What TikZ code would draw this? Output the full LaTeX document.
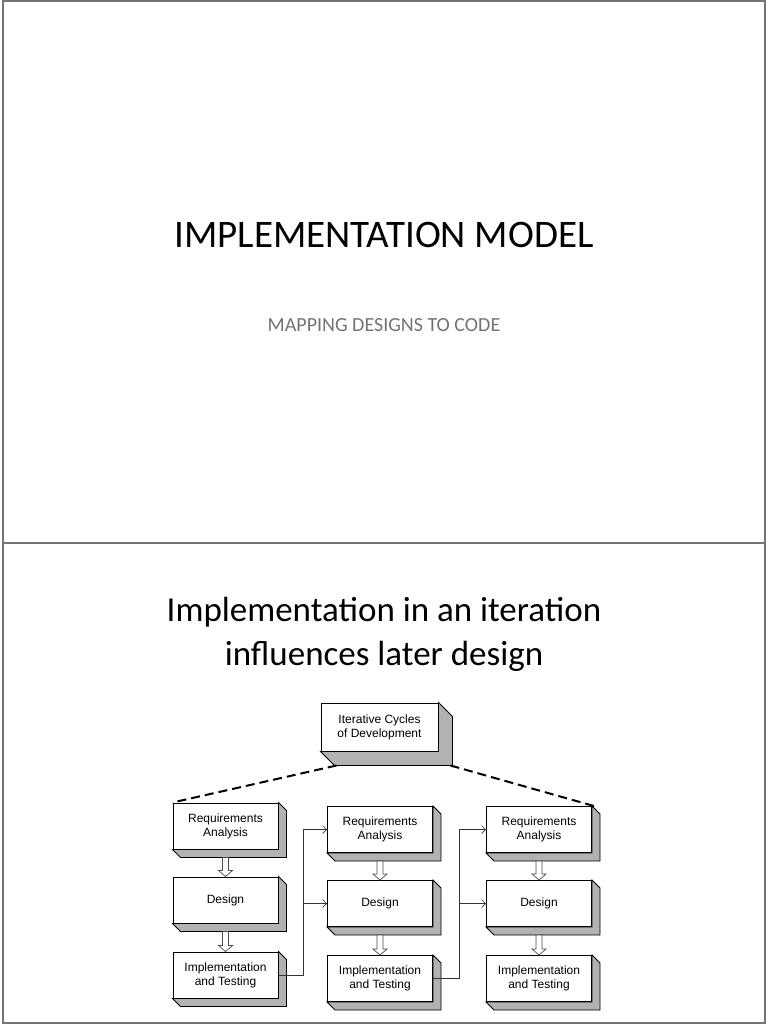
\documentclass[tikz,border=0pt]{standalone}
\usepackage{fontspec}
\setmainfont{Carlito}
\newfontfamily\boxfont{Liberation Sans}
\usetikzlibrary{positioning,arrows.meta,calc}

\begin{document}
\begin{tikzpicture}
   [x=1pt,y=-1pt,
	phase/.style={rectangle,draw,fill=white,minimum width=105pt,minimum height=46pt,
	 inner sep=1pt,align=center,font=\boxfont\fontsize{12}{14}\selectfont,line width=1pt},
	hollow/.style={draw=black!70,fill=white,line width=0.7pt},
	back/.style={->,>={Straight Barb[length=4pt,width=8pt]},black!80,line width=0.6pt},
	slide/.style={draw=black!55,line width=1.2pt}]
\useasboundingbox (0,0) rectangle (768,1024);
% slide frames
\draw [slide] (3,1) rectangle (765,1023);
\draw [slide] (3,543) -- (765,543);
% titles
\node [font=\fontsize{39}{46}\selectfont] (title) at (384,235) {IMPLEMENTATION MODEL};
\node [text=black!55,font=\fontsize{20}{24}\selectfont] (sub) at (384,325) {MAPPING DESIGNS TO CODE};
\node [align=center,font=\fontsize{35}{44}\selectfont] (title2) at (384,634) {Implementation in an iteration\\ influences later design};
% boxes
\node [phase,minimum width=117pt,minimum height=48pt] (cyc) at (379.5,727) {Iterative Cycles\\of Development};
\node [phase] (ra1) at (225.5,826) {Requirements\\Analysis};
\node [phase] (de1) at (225.5,900) {Design};
\node [phase] (im1) at (225.5,975) {Implementation\\and Testing};
\node [phase] (ra2) at (380,829.5) {Requirements\\Analysis};
\node [phase] (de2) at (380,903.5) {Design};
\node [phase] (im2) at (380,978.5) {Implementation\\and Testing};
\node [phase] (ra3) at (539,829.5) {Requirements\\Analysis};
\node [phase] (de3) at (539,903.5) {Design};
\node [phase] (im3) at (539,978.5) {Implementation\\and Testing};
% extruded sides
\foreach \n/\d in {cyc/14,ra1/8,de1/8,im1/8,ra2/8,de2/8,im2/8,ra3/8,de3/8,im3/8}
  \filldraw [fill=black!30,line width=0.8pt] (\n.north east) -- ++(\d,\d) -- ($(\n.south east)+(\d,\d)$)
	-- ($(\n.south west)+(\d,\d)$) -- (\n.south west) -- (\n.south east) -- cycle;
% dashed links
\draw [line width=2pt,dash pattern=on 9pt off 5pt] ($(cyc.south west)+(16,14)$) -- (ra1.north west);
\draw [line width=2pt,dash pattern=on 9pt off 5pt] ($(cyc.south east)+(12,14)$) -- ($(ra3.north east)+(2,0)$);
% flow inside each cycle
\foreach \a/\b in {ra1/de1,de1/im1,ra2/de2,de2/im2,ra3/de3,de3/im3}
  \draw [hollow] ($(\a.south)+(-3,8)$) -- ($(\b.north)+(-3,-6)$) -- ++(-4,0) -- (\b.north)
	-- ++(7,-6) -- ++(-4,0) -- ($(\a.south)+(3,8)$) -- cycle;
% feedback into the next cycle
\coordinate (j1) at (303,0);
\coordinate (j2) at (459,0);
\draw [back] (im1.east) -| (j1 |- ra2.west) -- (ra2.west);
\draw [back] (j1 |- de2.west) -- (de2.west);
\draw [back] (im2.east) -| (j2 |- ra3.west) -- (ra3.west);
\draw [back] (j2 |- de3.west) -- (de3.west);
\end{tikzpicture}
\end{document}
